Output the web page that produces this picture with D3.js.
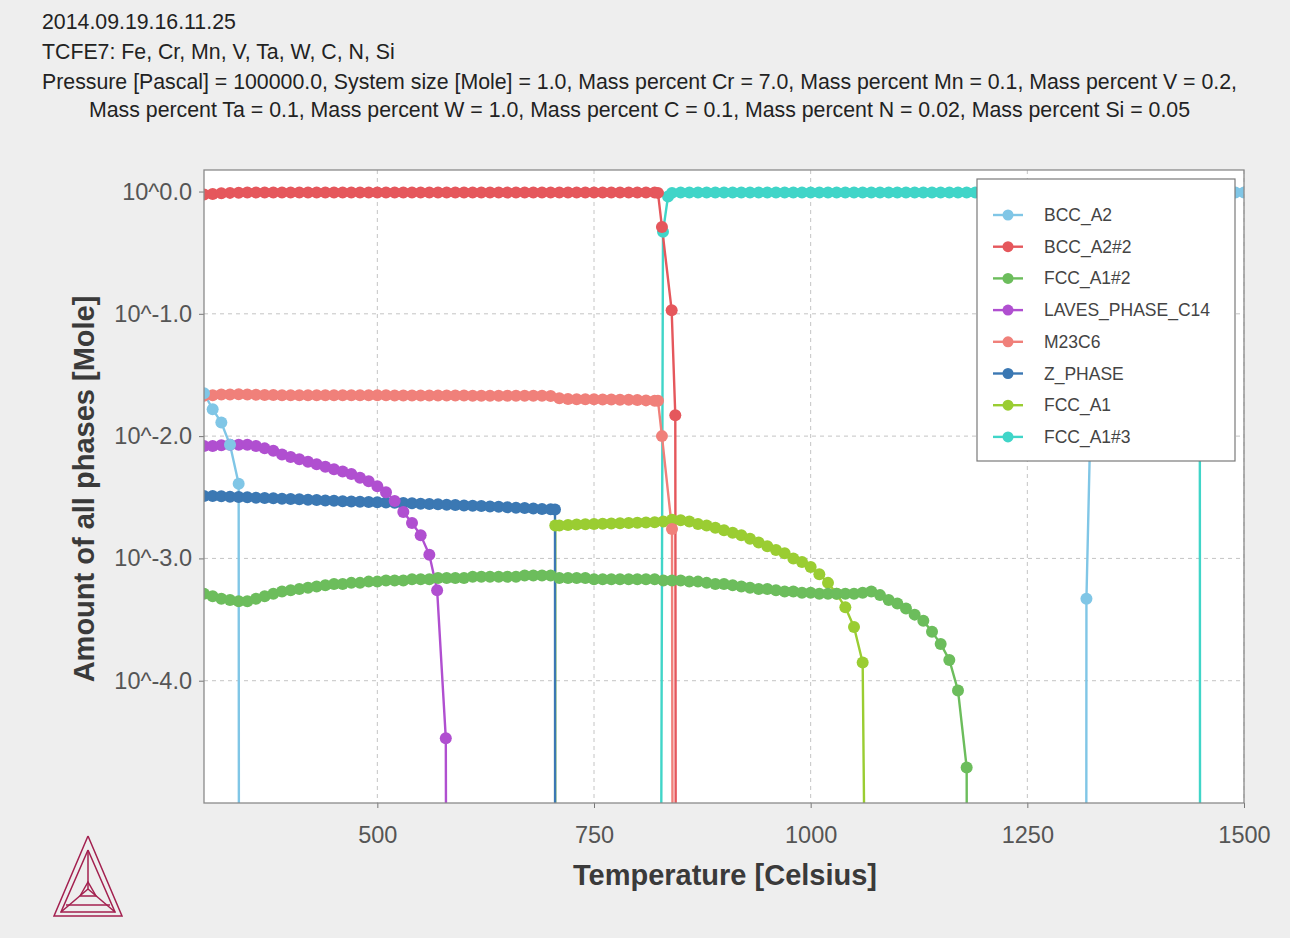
<!DOCTYPE html>
<html><head><meta charset="utf-8">
<script src="https://cdn.jsdelivr.net/npm/d3@7"></script>
<style>
html,body{margin:0;padding:0;background:#eeeeee;}
svg{display:block;font-family:"Liberation Sans",Arial,sans-serif;}
</style>
</head><body>
<svg id="chart" width="1290" height="938"></svg>
<script>
// ---------- text ----------
const titleLines = [
  "2014.09.19.16.11.25",
  "TCFE7: Fe, Cr, Mn, V, Ta, W, C, N, Si",
  "Pressure [Pascal] = 100000.0, System size [Mole] = 1.0, Mass percent Cr = 7.0, Mass percent Mn = 0.1, Mass percent V = 0.2,",
  "Mass percent Ta = 0.1, Mass percent W = 1.0, Mass percent C = 0.1, Mass percent N = 0.02, Mass percent Si = 0.05"
];
const xLabel = "Temperature [Celsius]";
const yLabel = "Amount of all phases [Mole]";
const xTicks = [500, 750, 1000, 1250, 1500];
const yTicks = [1e-4, 1e-3, 1e-2, 1e-1, 1];
const yTickLabels = ["10^-4.0", "10^-3.0", "10^-2.0", "10^-1.0", "10^0.0"];

const seriesNames = ["BCC_A2", "BCC_A2#2", "FCC_A1#2", "LAVES_PHASE_C14", "M23C6", "Z_PHASE", "FCC_A1", "FCC_A1#3"];
const seriesColors = ["#80c6e6", "#e5575c", "#6cbd5c", "#b04fd0", "#f0807a", "#3b78b3", "#9acd32", "#40d5c8"];

// ---------- data: [temperature (C), amount (mole)] ----------
const BCC_A2 = [[300,0.0224],[310,0.0166],[320,0.0129],[330,0.00851],[340,0.00407],[340.6,0],
  [1317.8,0],[1318.2,0.000468],[1324,0.03],[1330,0.06],[1340,0.1],[1350,0.15],[1360,0.2],[1370,0.26],
  [1380,0.32],[1390,0.39],[1400,0.46],[1410,0.54],[1420,0.63],[1430,0.72],[1440,0.83],[1449,0.94],
  [1450,0.975],[1460,0.98],[1470,0.98],[1480,0.98],[1490,0.98],[1500,0.98]];

const BCC_A2_2 = [[300,0.944],[310,0.955],[320,0.97],[330,0.975],[340,0.978],[350,0.98],[360,0.98],[370,0.98],
  [380,0.98],[390,0.98],[400,0.98],[410,0.98],[420,0.98],[430,0.98],[440,0.98],[450,0.98],[460,0.98],[470,0.98],
  [480,0.98],[490,0.98],[500,0.98],[510,0.98],[520,0.98],[530,0.98],[540,0.98],[550,0.98],[560,0.98],[570,0.98],
  [580,0.98],[590,0.98],[600,0.98],[610,0.98],[620,0.98],[630,0.98],[640,0.98],[650,0.98],[660,0.98],[670,0.98],
  [680,0.98],[690,0.98],[700,0.98],[710,0.98],[720,0.98],[730,0.98],[740,0.98],[750,0.98],[760,0.98],[770,0.98],
  [780,0.98],[790,0.98],[800,0.98],[810,0.98],[820,0.98],[823.8,0.975],[828.4,0.513],[839.6,0.107],[843.8,0.0148],[844.8,0]];

const FCC_A1_2 = [[300,0.000513],[310,0.000490],[320,0.000468],[330,0.000457],[340,0.000447],[350,0.000447],
  [360,0.000468],[370,0.000490],[380,0.000513],[390,0.000537],[400,0.000550],[410,0.000562],[420,0.000575],
  [430,0.000589],[440,0.000603],[450,0.000617],[460,0.000617],[470,0.000631],[480,0.000631],[490,0.000646],
  [500,0.000646],[510,0.000661],[520,0.000661],[530,0.000661],[540,0.000676],[550,0.000676],[560,0.000676],
  [570,0.000692],[580,0.000692],[590,0.000692],[600,0.000692],[610,0.000708],[620,0.000708],[630,0.000708],
  [640,0.000708],[650,0.000708],[660,0.000708],[670,0.000724],[680,0.000724],[690,0.000724],[700,0.000724],
  [710,0.000692],[720,0.000692],[730,0.000692],[740,0.000692],[750,0.000676],[760,0.000676],[770,0.000676],
  [780,0.000676],[790,0.000676],[800,0.000676],[810,0.000676],[820,0.000676],[830,0.000661],[840,0.000661],
  [850,0.000661],[860,0.000646],[870,0.000646],[880,0.000631],[890,0.000617],[900,0.000617],[910,0.000603],
  [920,0.000589],[930,0.000575],[940,0.000562],[950,0.000562],[960,0.000550],[970,0.000537],[980,0.000537],
  [990,0.000525],[1000,0.000525],[1010,0.000513],[1020,0.000513],[1030,0.000513],[1040,0.000513],[1050,0.000513],
  [1060,0.000525],[1070,0.000537],[1080,0.000501],[1090,0.000457],[1100,0.000427],[1110,0.000389],[1120,0.000347],
  [1130,0.000309],[1140,0.000251],[1150,0.000200],[1160,0.000148],[1170,0.0000832],[1180,0.0000195],[1181,0]];

const LAVES_PHASE_C14 = [[300,0.00832],[310,0.00832],[320,0.00841],[330,0.00851],[340,0.00851],[350,0.00851],
  [360,0.00832],[370,0.00794],[380,0.00759],[390,0.00708],[400,0.00676],[410,0.00646],[420,0.00617],[430,0.00589],
  [440,0.00562],[450,0.00537],[460,0.00513],[470,0.00490],[480,0.00457],[490,0.00427],[500,0.00389],[510,0.00347],
  [520,0.00295],[530,0.00240],[540,0.00195],[550,0.00155],[560,0.00107],[569,0.000550],[579,0.0000339],[580.5,0]];

const M23C6 = [[300,0.0214],[310,0.0216],[320,0.0219],[330,0.0219],[340,0.0220],[350,0.0219],[360,0.0218],
  [370,0.0217],[380,0.0217],[390,0.0216],[400,0.0216],[410,0.0216],[420,0.0216],[430,0.0216],[440,0.0216],
  [450,0.0216],[460,0.0216],[470,0.0216],[480,0.0216],[490,0.0216],[500,0.0216],[510,0.0216],[520,0.0215],
  [530,0.0215],[540,0.0215],[550,0.0215],[560,0.0215],[570,0.0215],[580,0.0215],[590,0.0215],[600,0.0215],
  [610,0.0214],[620,0.0214],[630,0.0214],[640,0.0214],[650,0.0214],[660,0.0214],[670,0.0214],[680,0.0214],
  [690,0.0214],[700,0.0213],[710,0.0204],[720,0.0201],[730,0.0200],[740,0.0200],[750,0.0200],[760,0.0199],
  [770,0.0199],[780,0.0198],[790,0.0198],[800,0.0197],[810,0.0196],[820,0.0195],[823.8,0.0195],
  [828.4,0.0100],[840,0.00174],[841.5,0]];

const Z_PHASE = [[300,0.00324],[310,0.00324],[320,0.00322],[330,0.00320],[340,0.00318],[350,0.00316],
  [360,0.00314],[370,0.00312],[380,0.00310],[390,0.00308],[400,0.00306],[410,0.00304],[420,0.00302],
  [430,0.00300],[440,0.00298],[450,0.00296],[460,0.00294],[470,0.00292],[480,0.00290],[490,0.00289],
  [500,0.00288],[510,0.00287],[520,0.00285],[530,0.00284],[540,0.00282],[550,0.00280],[560,0.00279],
  [570,0.00277],[580,0.00275],[590,0.00273],[600,0.00271],[610,0.00270],[620,0.00268],[630,0.00266],
  [640,0.00264],[650,0.00262],[660,0.00260],[670,0.00258],[680,0.00256],[690,0.00254],[700,0.00252],
  [705,0.00251],[705.3,0]];

const FCC_A1 = [[705,0],[705.3,0.00186],[710,0.00186],[720,0.00188],[730,0.00189],[740,0.00190],[750,0.00191],
  [760,0.00192],[770,0.00193],[780,0.00194],[790,0.00195],[800,0.00196],[810,0.00197],[820,0.00198],
  [830,0.00200],[840,0.00207],[850,0.00205],[860,0.00200],[870,0.00191],[880,0.00186],[890,0.00178],
  [900,0.00170],[910,0.00162],[920,0.00155],[930,0.00145],[940,0.00135],[950,0.00126],[960,0.00117],
  [970,0.00110],[980,0.00100],[990,0.000933],[1000,0.000851],[1010,0.000741],[1020,0.000631],[1030,0.000513],
  [1040,0.000398],[1050,0.000275],[1060,0.000141],[1067,0]];

const FCC_A1_3 = [[826,0],[829.6,0.47],[835.4,0.91],[840,0.975],[850,0.98],[860,0.98],[870,0.98],[880,0.98],
  [890,0.98],[900,0.98],[910,0.98],[920,0.98],[930,0.98],[940,0.98],[950,0.98],[960,0.98],[970,0.98],[980,0.98],
  [990,0.98],[1000,0.98],[1010,0.98],[1020,0.98],[1030,0.98],[1040,0.98],[1050,0.98],[1060,0.98],[1070,0.98],
  [1080,0.98],[1090,0.98],[1100,0.98],[1110,0.98],[1120,0.98],[1130,0.98],[1140,0.98],[1150,0.98],[1160,0.98],
  [1170,0.98],[1180,0.98],[1190,0.98],[1200,0.98],[1210,0.98],[1220,0.98],[1230,0.98],[1240,0.98],[1250,0.98],
  [1260,0.98],[1270,0.98],[1280,0.98],[1290,0.98],[1300,0.98],[1310,0.98],[1318,0.98],[1324,0.95],[1330,0.92],
  [1340,0.88],[1350,0.83],[1360,0.78],[1370,0.72],[1380,0.66],[1390,0.59],[1400,0.52],[1410,0.44],[1420,0.35],
  [1430,0.26],[1440,0.15],[1449,0.05],[1449.5,0]];

const seriesData = [BCC_A2, BCC_A2_2, FCC_A1_2, LAVES_PHASE_C14, M23C6, Z_PHASE, FCC_A1, FCC_A1_3];

// ---------- layout ----------
const W = 1290, H = 938;
const plot = {left: 204, right: 1244, top: 170, bottom: 803};
const svg = d3.select("#chart");
svg.append("rect").attr("width", W).attr("height", H).attr("fill", "#eeeeee");

const x = d3.scaleLinear().domain([300, 1500]).range([plot.left, plot.right]);
const y = d3.scaleLog().domain([1e-5, 1.5]).range([plot.bottom, plot.top]);
const yv = v => y(Math.max(v, 1e-9));

// title
const title = svg.append("g").attr("fill", "#222").attr("font-size", 21.3);
const titleX = [42, 42, 42, 89], titleY = [29, 59, 89, 117];
titleLines.forEach((t, i) => {
  title.append("text").attr("x", titleX[i]).attr("y", titleY[i]).text(t);
});

// plot background
svg.append("rect").attr("x", plot.left).attr("y", plot.top)
  .attr("width", plot.right - plot.left).attr("height", plot.bottom - plot.top).attr("fill", "#fff");

// grid
const grid = svg.append("g").attr("stroke", "#c4c4c4").attr("stroke-dasharray", "4,4").attr("stroke-width", 1);
xTicks.forEach(t => grid.append("line").attr("x1", x(t)).attr("x2", x(t)).attr("y1", plot.top).attr("y2", plot.bottom));
yTicks.forEach(t => grid.append("line").attr("y1", y(t)).attr("y2", y(t)).attr("x1", plot.left).attr("x2", plot.right));

// axes
const xAxis = d3.axisBottom(x).tickValues(xTicks).tickSize(5).tickPadding(18).tickFormat(d3.format("d"));
const gx = svg.append("g").attr("transform", `translate(0,${plot.bottom})`).call(xAxis);
gx.select(".domain").remove();
gx.selectAll("line").attr("stroke", "#777");
gx.selectAll("text").attr("font-size", 23.5).attr("fill", "#555").attr("font-family", "Liberation Sans, Arial, sans-serif");

const yAxis = d3.axisLeft(y).tickValues(yTicks).tickSize(5).tickPadding(7)
  .tickFormat((d, i) => yTickLabels[i]);
const gy = svg.append("g").attr("transform", `translate(${plot.left},0)`).call(yAxis);
gy.select(".domain").remove();
gy.selectAll("line").attr("stroke", "#777");
gy.selectAll("text").attr("font-size", 23.5).attr("fill", "#555").attr("font-family", "Liberation Sans, Arial, sans-serif");

// clip
svg.append("clipPath").attr("id", "clip").append("rect")
  .attr("x", plot.left).attr("y", plot.top).attr("width", plot.right - plot.left).attr("height", plot.bottom - plot.top);
const dataG = svg.append("g").attr("clip-path", "url(#clip)");

const line = d3.line().x(d => x(d[0])).y(d => yv(d[1]));
const order = d3.range(seriesData.length).reverse();
// pass 0: lines
order.forEach(i => {
  dataG.append("path").datum(seriesData[i]).attr("d", line)
    .attr("fill", "none").attr("stroke", seriesColors[i]).attr("stroke-width", 2.4).attr("stroke-linejoin", "round");
});
// pass 1: markers
order.forEach(i => {
  dataG.append("g").selectAll("circle").data(seriesData[i].filter(d => d[1] > 0)).join("circle")
    .attr("cx", d => x(d[0])).attr("cy", d => yv(d[1])).attr("r", 6).attr("fill", seriesColors[i]);
});

// plot border
svg.append("rect").attr("x", plot.left).attr("y", plot.top)
  .attr("width", plot.right - plot.left).attr("height", plot.bottom - plot.top)
  .attr("fill", "none").attr("stroke", "#8a8a8a").attr("stroke-width", 1.3);

// axis titles
svg.append("text").attr("x", 725).attr("y", 885).attr("text-anchor", "middle")
  .attr("font-size", 29).attr("font-weight", "bold").attr("fill", "#3a3a3a").text(xLabel);
svg.append("text").attr("transform", "translate(94,489) rotate(-90)").attr("text-anchor", "middle")
  .attr("font-size", 29).attr("font-weight", "bold").attr("fill", "#3a3a3a").text(yLabel);

// legend
const lg = svg.append("g");
lg.append("rect").attr("x", 977).attr("y", 179).attr("width", 258).attr("height", 282)
  .attr("fill", "#fff").attr("stroke", "#7a7a7a").attr("stroke-width", 1.2);
seriesNames.forEach((n, i) => {
  const cy = 215 + i * 31.7;
  lg.append("line").attr("x1", 993).attr("x2", 1023).attr("y1", cy).attr("y2", cy)
    .attr("stroke", seriesColors[i]).attr("stroke-width", 2.4);
  lg.append("circle").attr("cx", 1008).attr("cy", cy).attr("r", 5.5).attr("fill", seriesColors[i]);
  lg.append("text").attr("x", 1044).attr("y", cy + 6).attr("font-size", 17.5).attr("fill", "#444").text(n);
});

// logo (Thermo-Calc style triangle)
const logo = svg.append("g").attr("fill", "none").attr("stroke", "#a3204f").attr("stroke-width", 1.5);
const A = [88, 836], B = [54, 916], C = [122, 916];
const A2 = [88, 850], B2 = [61, 912], C2 = [115, 912];
const O = [88, 889];
logo.append("path").attr("d", d3.line()([A, B, C, A]));
logo.append("path").attr("d", d3.line()([A2, B2, C2, A2]));
logo.append("path").attr("d", d3.line()([A2, O]));
logo.append("path").attr("d", d3.line()([O, B2]));
logo.append("path").attr("d", d3.line()([O, C2]));
logo.append("path").attr("d", d3.line()([[80, 896], [96, 896], [88, 882], [80, 896]]));
logo.append("path").attr("d", d3.line()([[66, 905], [110, 905]]));
</script>
</body></html>
